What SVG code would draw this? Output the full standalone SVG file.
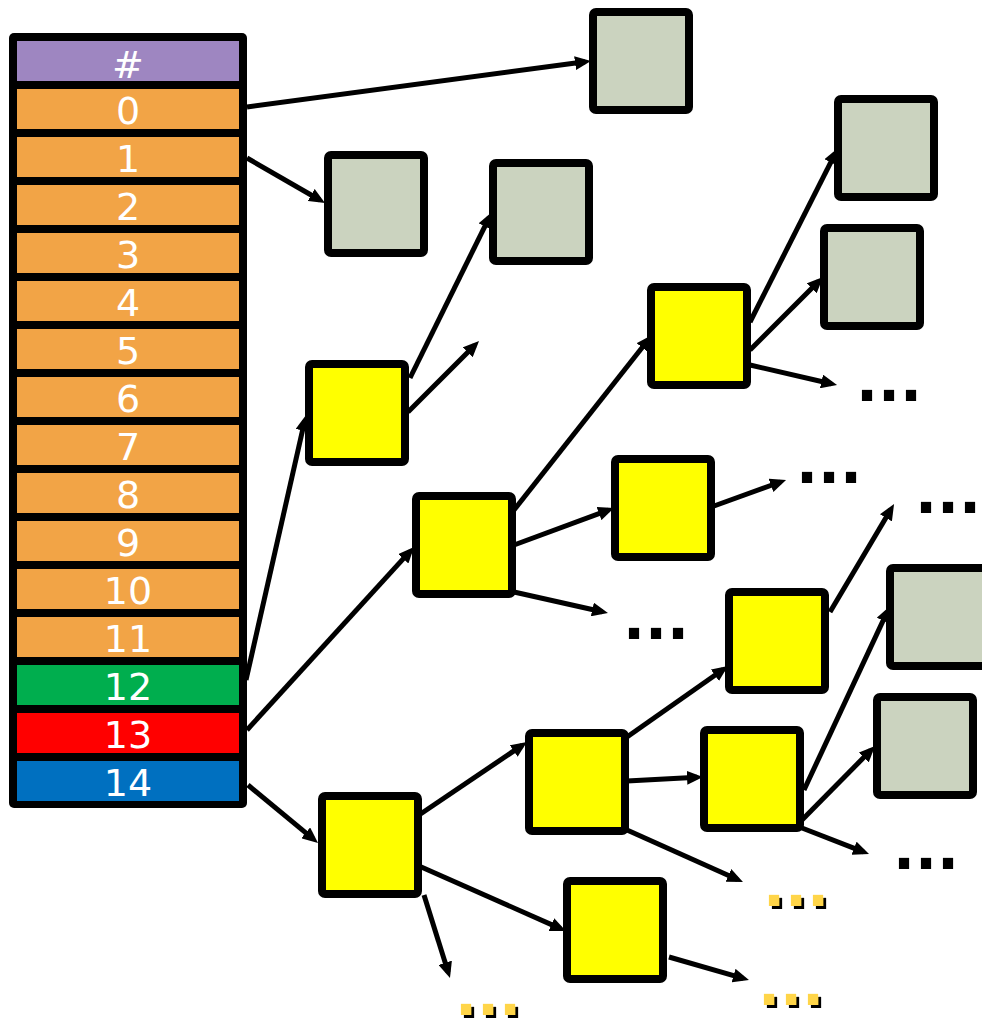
<svg xmlns="http://www.w3.org/2000/svg" width="982" height="1021" viewBox="0 0 982 1021">
<style>
.row{stroke:none}
.lbl{font-family:"DejaVu Sans",sans-serif;font-size:38px;fill:#fff;text-anchor:middle}
.g{fill:#CBD3BF;stroke:#000;stroke-width:8}
.y{fill:#FFFF00;stroke:#000;stroke-width:8}
.c line{stroke:#000;stroke-width:5;marker-end:url(#ah)}
.dots{font-family:"DejaVu Sans",sans-serif;font-weight:bold;font-size:58px;fill:#000}
.ydots{font-family:"DejaVu Sans",sans-serif;font-weight:bold;font-size:58px;fill:#FFD54A;filter:url(#sh)}
</style>
<defs>
<marker id="ah" viewBox="0 0 16 14" refX="10" refY="7" markerWidth="16" markerHeight="14" markerUnits="userSpaceOnUse" orient="auto">
<path d="M0,0 L16,7 L0,14 z" fill="#000"/>
</marker>
<filter id="sh" x="-10%" y="-10%" width="130%" height="130%">
<feOffset in="SourceAlpha" dx="3" dy="3" result="o"/>
<feMerge><feMergeNode in="o"/><feMergeNode in="SourceGraphic"/></feMerge>
</filter>
</defs>
<g id="connectors" class="c">
<line x1="247" y1="107" x2="585" y2="61.8"/>
<line x1="247" y1="158" x2="319.8" y2="200"/>
<line x1="246" y1="680" x2="304.7" y2="420.8"/>
<line x1="247" y1="730" x2="410" y2="551.4"/>
<line x1="248" y1="785" x2="313.4" y2="839.2"/>
<line x1="410" y1="378" x2="489.3" y2="217.4"/>
<line x1="408" y1="412" x2="474.8" y2="345.2"/>
<line x1="514" y1="510" x2="648.3" y2="339.7"/>
<line x1="514" y1="545" x2="608.4" y2="510.1"/>
<line x1="514" y1="592" x2="602.1" y2="611.7"/>
<line x1="750" y1="322" x2="835.3" y2="153.4"/>
<line x1="750" y1="350" x2="818.8" y2="281.2"/>
<line x1="750" y1="365" x2="831.2" y2="383.7"/>
<line x1="714" y1="506" x2="780.4" y2="482"/>
<line x1="830" y1="612" x2="891" y2="509.2"/>
<line x1="419" y1="815" x2="522" y2="745.4"/>
<line x1="419" y1="866" x2="560.5" y2="928.6"/>
<line x1="424" y1="895" x2="448.2" y2="972.3"/>
<line x1="627" y1="737" x2="723.1" y2="669.5"/>
<line x1="627" y1="781" x2="697" y2="777.3"/>
<line x1="627" y1="830" x2="737.5" y2="879.5"/>
<line x1="804" y1="790" x2="887.3" y2="611.6"/>
<line x1="802" y1="820" x2="870.8" y2="750.3"/>
<line x1="802" y1="828" x2="863.4" y2="851.8"/>
<line x1="669" y1="957" x2="743.2" y2="978.3"/>
</g>
<g id="table">
<rect x="9" y="33" width="238" height="775" rx="5" fill="#000"/>
<rect class="row" x="17" y="41" width="222" height="40" fill="#9E86C1"/>
<rect class="row" x="17" y="89" width="222" height="40" fill="#F2A446"/>
<rect class="row" x="17" y="137" width="222" height="40" fill="#F2A446"/>
<rect class="row" x="17" y="185" width="222" height="40" fill="#F2A446"/>
<rect class="row" x="17" y="233" width="222" height="40" fill="#F2A446"/>
<rect class="row" x="17" y="281" width="222" height="40" fill="#F2A446"/>
<rect class="row" x="17" y="329" width="222" height="40" fill="#F2A446"/>
<rect class="row" x="17" y="377" width="222" height="40" fill="#F2A446"/>
<rect class="row" x="17" y="425" width="222" height="40" fill="#F2A446"/>
<rect class="row" x="17" y="473" width="222" height="40" fill="#F2A446"/>
<rect class="row" x="17" y="521" width="222" height="40" fill="#F2A446"/>
<rect class="row" x="17" y="569" width="222" height="40" fill="#F2A446"/>
<rect class="row" x="17" y="617" width="222" height="40" fill="#F2A446"/>
<rect class="row" x="17" y="665" width="222" height="40" fill="#00AE4E"/>
<rect class="row" x="17" y="713" width="222" height="40" fill="#FF0000"/>
<rect class="row" x="17" y="761" width="222" height="40" fill="#0070C0"/>
<text class="lbl" x="128" y="78">#</text>
<text class="lbl" x="128" y="124">0</text>
<text class="lbl" x="128" y="172">1</text>
<text class="lbl" x="128" y="220">2</text>
<text class="lbl" x="128" y="268">3</text>
<text class="lbl" x="128" y="316">4</text>
<text class="lbl" x="128" y="364">5</text>
<text class="lbl" x="128" y="412">6</text>
<text class="lbl" x="128" y="460">7</text>
<text class="lbl" x="128" y="508">8</text>
<text class="lbl" x="128" y="556">9</text>
<text class="lbl" x="128" y="604">10</text>
<text class="lbl" x="128" y="652">11</text>
<text class="lbl" x="128" y="700">12</text>
<text class="lbl" x="128" y="748">13</text>
<text class="lbl" x="128" y="796">14</text>
</g>
<g id="g1"><rect class="g" x="593" y="12" width="96" height="98" rx="3"/></g>
<g id="g2"><rect class="g" x="328" y="155" width="96" height="98" rx="3"/></g>
<g id="g3"><rect class="g" x="493" y="163" width="96" height="98" rx="3"/></g>
<g id="g4"><rect class="g" x="838" y="99" width="96" height="98" rx="3"/></g>
<g id="g5"><rect class="g" x="824" y="228" width="96" height="98" rx="3"/></g>
<g id="g6"><rect class="g" x="890" y="568" width="96" height="98" rx="3"/></g>
<g id="g7"><rect class="g" x="877" y="697" width="96" height="98" rx="3"/></g>
<g id="y1"><rect class="y" x="309" y="364" width="96" height="98" rx="3"/></g>
<g id="y2"><rect class="y" x="416" y="496" width="96" height="98" rx="3"/></g>
<g id="y3"><rect class="y" x="651" y="287" width="96" height="98" rx="3"/></g>
<g id="y4"><rect class="y" x="615" y="459" width="96" height="98" rx="3"/></g>
<g id="y5"><rect class="y" x="729" y="592" width="96" height="98" rx="3"/></g>
<g id="y6"><rect class="y" x="529" y="733" width="96" height="98" rx="3"/></g>
<g id="y7"><rect class="y" x="704" y="730" width="96" height="98" rx="3"/></g>
<g id="y8"><rect class="y" x="322" y="796" width="96" height="98" rx="3"/></g>
<g id="y9"><rect class="y" x="567" y="881" width="96" height="98" rx="3"/></g>
<g id="dots">
<text class="dots" x="856" y="401">...</text>
<text class="dots" x="796" y="483">...</text>
<text class="dots" x="915" y="513">...</text>
<text class="dots" x="623" y="639">...</text>
<text class="dots" x="893" y="869">...</text>
<text class="ydots" x="455" y="1015">...</text>
<text class="ydots" x="763" y="906">...</text>
<text class="ydots" x="758" y="1005">...</text>
</g>
</svg>
